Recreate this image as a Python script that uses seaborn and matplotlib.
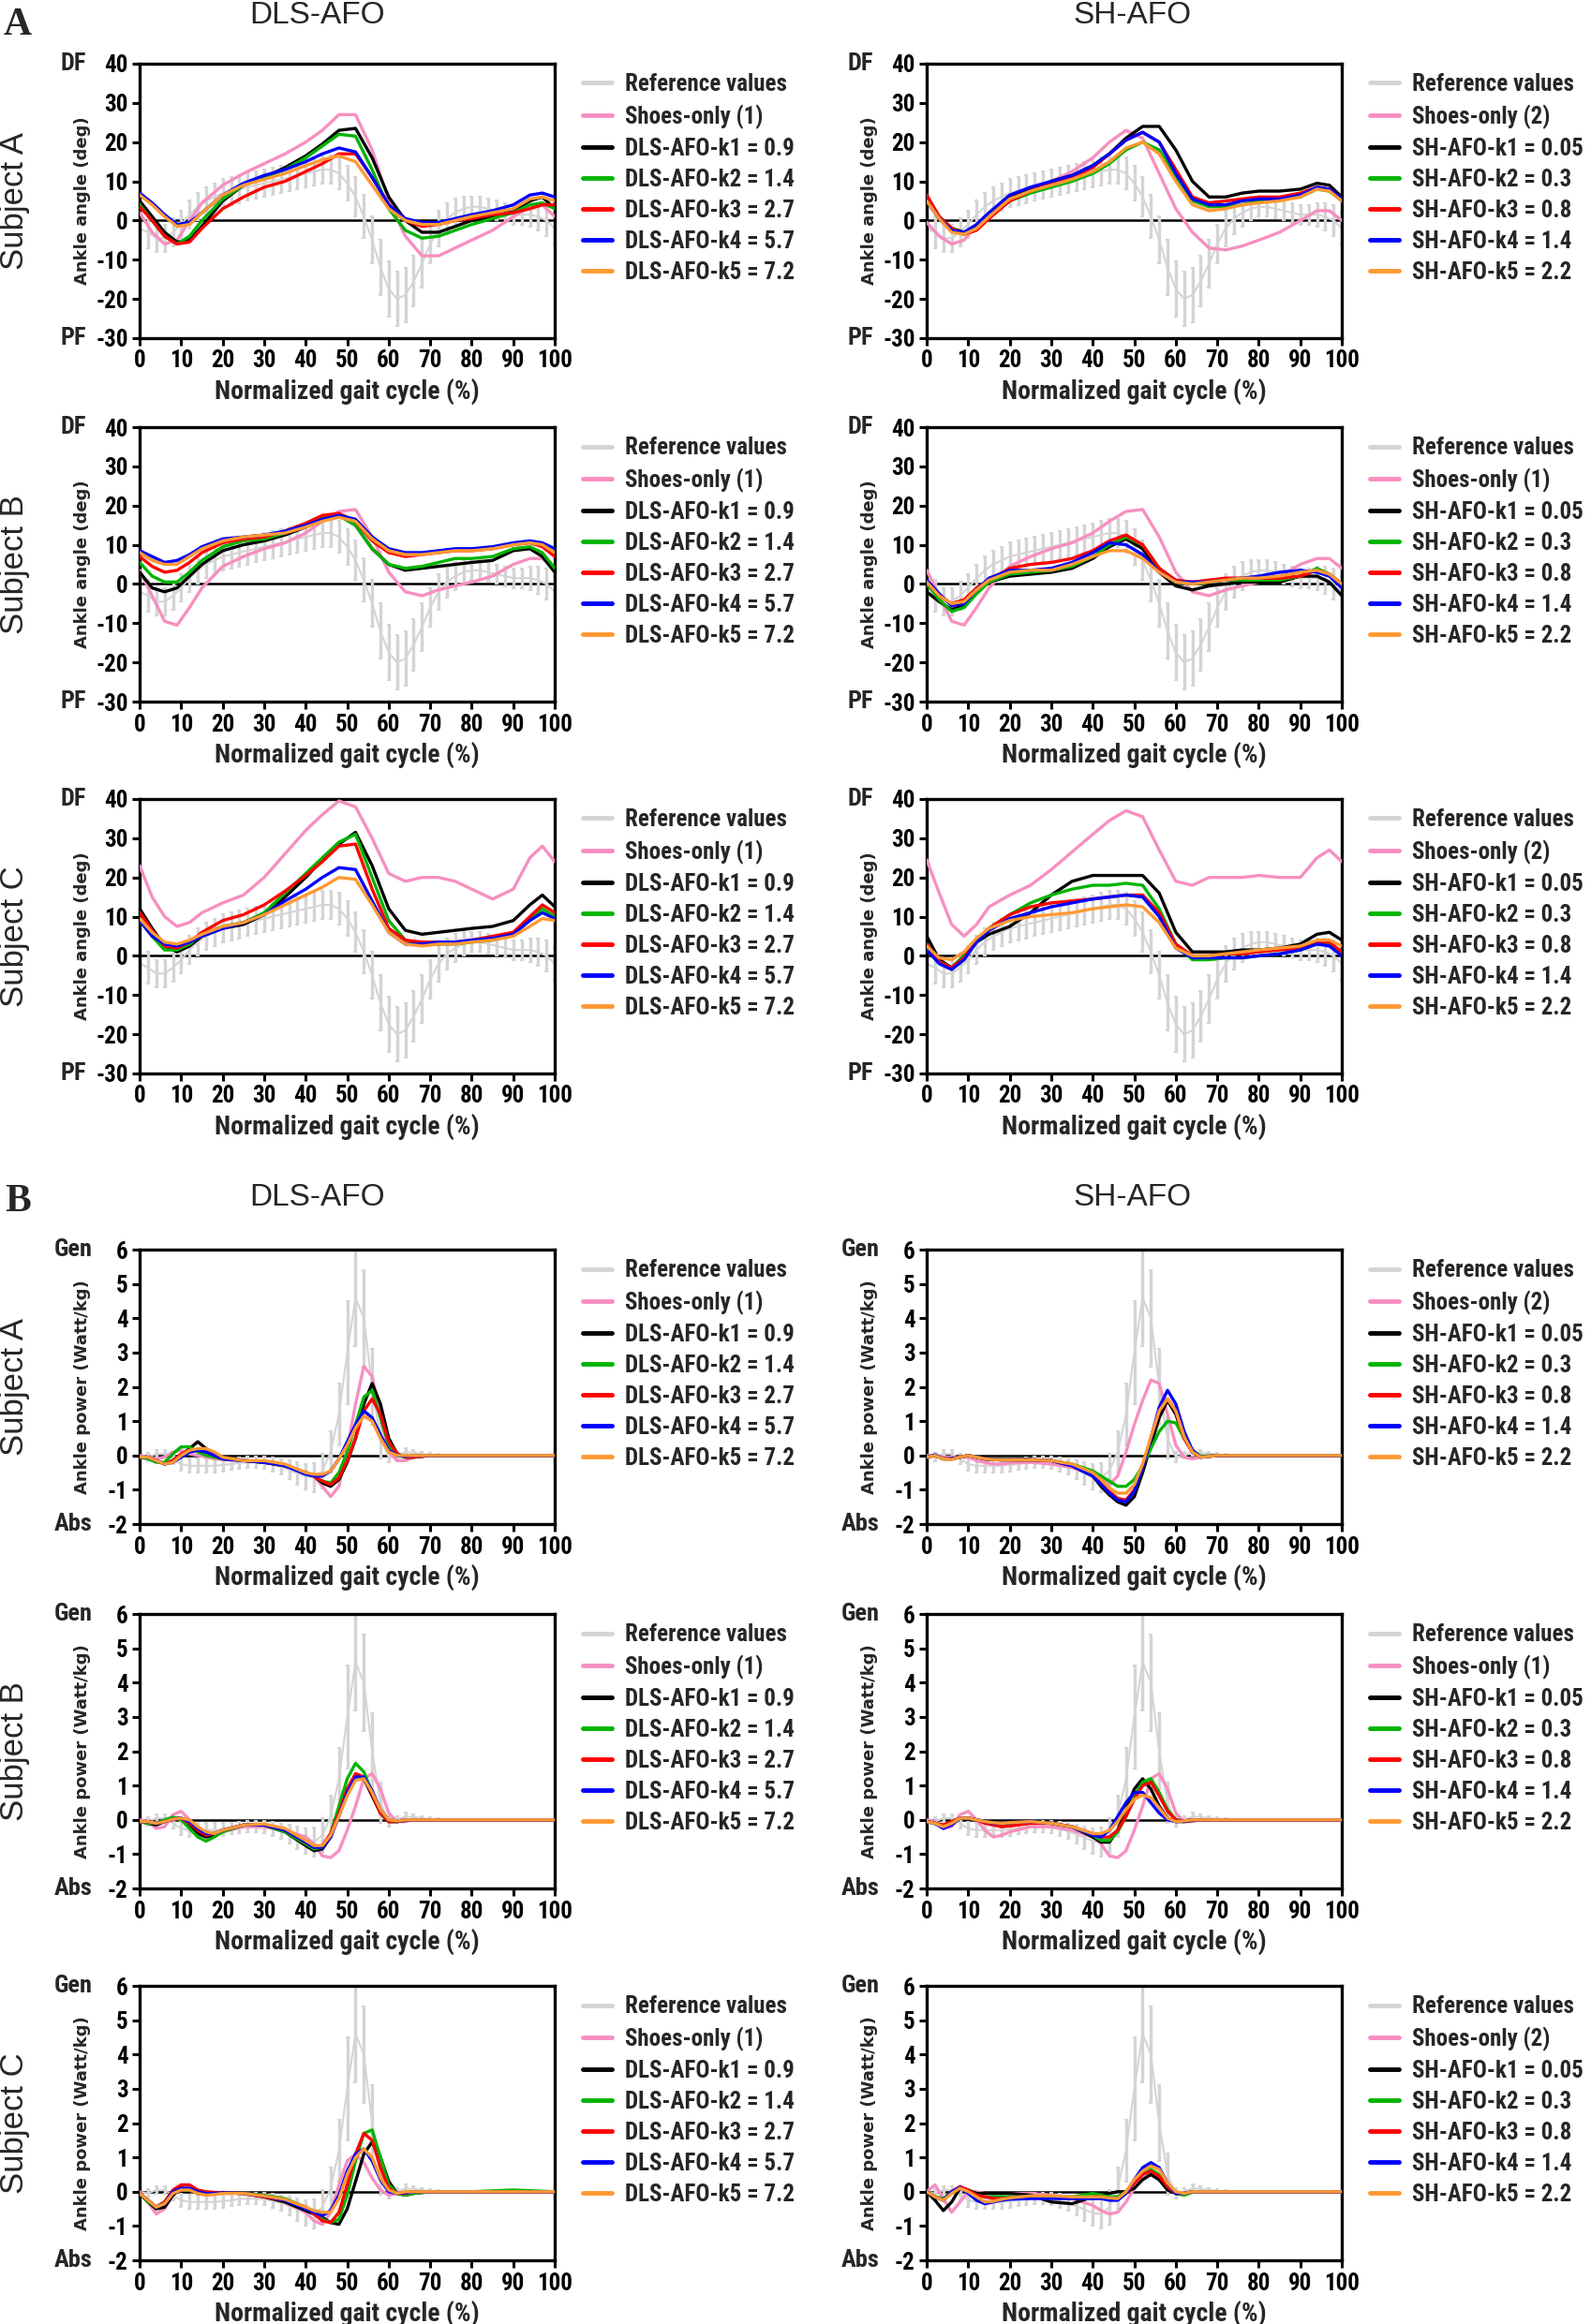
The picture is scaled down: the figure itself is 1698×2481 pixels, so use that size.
import matplotlib
matplotlib.use('Agg')
import matplotlib.pyplot as plt
from matplotlib import font_manager
from matplotlib.lines import Line2D
from matplotlib.transforms import blended_transform_factory
import seaborn as sns

# ---------------- data ----------------
# gait cycle (%) sample points
XA = [0, 3, 6, 9, 12, 15, 20, 25, 30, 35, 40, 44, 48, 52, 56, 60, 64, 68, 72, 76, 80, 85, 90, 94, 97, 100]
XP = [0, 2, 4, 6, 8, 10, 12, 14, 16, 18, 20, 25, 30, 35, 40, 42, 44, 46, 48, 50, 52, 54, 56, 58, 60, 62, 64, 66, 70, 80, 90, 100]
XR = [0, 2, 4, 6, 8, 10, 12, 14, 16, 18, 20, 22, 24, 26, 28, 30, 32, 34, 36, 38, 40, 42, 44, 46, 48, 50,
      52, 54, 56, 58, 60, 62, 64, 66, 68, 70, 72, 74, 76, 78, 80, 82, 84, 86, 88, 90, 92, 94, 96, 98, 100]

# reference (normal gait) mean and SD
ref_ang_mean = [-2, -3, -4.5, -4.5, -3, -1, 1.5, 3.5, 5, 6, 7, 7.5, 8, 8.5, 9, 9.5, 10, 10.5, 11, 11.5, 12, 12.5, 13, 13, 12, 9.5,
                6, 1, -5, -12, -17.5, -20, -19, -15.5, -11, -6, -2, 0.5, 2, 3, 3.5, 3.5, 3, 2.5, 2, 1.5, 1.5, 1.5, 1, 0, -2]
ref_ang_sd = [4, 4, 3.5, 3.5, 3.5, 3.5, 3.5, 3.5, 3.5, 3.5, 3.5, 3.5, 3.5, 3.5, 3.5, 3.5, 3.5, 3.5, 3.5, 3.5, 3.5, 3.5, 3.5, 3.5, 4, 4.5,
              5, 5.5, 6, 7, 7, 7, 7, 6.5, 6, 5, 4.5, 4, 3.5, 3, 2.5, 2.5, 2.5, 2.5, 2.5, 2.5, 2.5, 3, 3.5, 4, 4]
ref_pow_mean = [0, -0.05, 0.05, 0.05, -0.1, -0.25, -0.3, -0.3, -0.3, -0.3, -0.28, -0.25, -0.22, -0.2, -0.2, -0.22, -0.27, -0.33,
                -0.42, -0.52, -0.62, -0.65, -0.45, 0.1, 1.2, 3.0, 4.6, 4.0, 2.0, 0.5, -0.05, 0, 0.1, 0.08, 0.05, 0.02,
                0.01, 0, 0, 0, 0, 0, 0, 0, 0, 0, 0, 0, 0, 0, 0]
ref_pow_sd = [0.1, 0.12, 0.12, 0.12, 0.15, 0.2, 0.2, 0.2, 0.2, 0.2, 0.18, 0.17, 0.17, 0.17, 0.17, 0.18, 0.2, 0.22, 0.27, 0.33,
              0.38, 0.42, 0.5, 0.6, 0.9, 1.5, 1.4, 1.4, 1.1, 0.6, 0.15, 0.1, 0.1, 0.08, 0.06, 0.05,
              0.03, 0.03, 0.03, 0.03, 0.03, 0.03, 0.03, 0.03, 0.03, 0.03, 0.03, 0.03, 0.03, 0.03, 0.03]

# ankle angle (deg) - subject A
sa_dls_shoes = [2, -3, -6, -5, 0, 4.5, 9, 12, 14.5, 17, 20, 23, 27, 27, 18, 5, -4, -9, -9, -7, -5, -2.5, 1, 3.5, 4, 1]
sa_dls_k1 = [5, 1, -3, -5.5, -5, -1.5, 5, 9, 11, 13.5, 16.5, 19.5, 23, 23.5, 16, 6, 0, -3, -3, -1.5, 0, 1, 2.5, 5, 6, 3]
sa_dls_k2 = [4, 0, -4, -6, -4, 0, 5.5, 9, 11, 13, 16, 19, 22, 21.5, 13, 3, -2.5, -4.5, -4, -2.5, -1, 0.5, 2, 4, 4.5, 3]
sa_dls_k3 = [3.5, 0, -4, -6, -5.5, -2, 3, 6, 8.5, 10, 12.5, 14.5, 17, 17, 11, 4, 0, -1.5, -1, 0, 0.5, 1.5, 2, 3, 4, 4]
sa_dls_k4 = [7, 4.5, 1.5, -1, -0.5, 2, 6.5, 9.5, 11.5, 13, 15, 17, 18.5, 17.5, 11, 4, 0.5, -0.5, -0.5, 0.5, 1.5, 2.5, 4, 6.5, 7, 6]
sa_dls_k5 = [6.5, 4, 1, -1.5, -1, 2, 6.5, 9, 10.5, 12, 14, 15.5, 16.5, 15, 9, 3, 0, -1, -1, 0, 1, 2, 3, 5.5, 6, 5]
sa_sh_shoes = [-0.5, -4, -6, -5, -1, 2, 6, 8, 10, 12.5, 16, 20, 23, 21, 12, 3, -3, -7, -7.5, -6.5, -5, -3, 0, 2.5, 2.5, 0]
sa_sh_k1 = [6, 1, -2, -3, -1.5, 1.5, 6, 8, 10, 11.5, 14, 17, 21, 24, 24, 18, 10, 6, 6, 7, 7.5, 7.5, 8, 9.5, 9, 6]
sa_sh_k2 = [5, 0.5, -2.5, -3.5, -2, 1, 5, 7, 8.5, 10, 12, 14.5, 18, 20, 18, 11, 5, 3.5, 3.5, 4, 5, 5.5, 6, 8, 7.5, 5]
sa_sh_k3 = [6.5, 1, -2, -3.5, -2.5, 0.5, 5, 7.5, 9.5, 11, 13.5, 17, 20.5, 22.5, 20, 13, 6, 4.5, 5, 5.5, 6, 6, 7, 8.5, 8, 5.5]
sa_sh_k4 = [5, 0.5, -2.5, -3, -1, 2, 6.5, 8.5, 10, 11.5, 14, 17, 20.5, 22.5, 20, 12, 5.5, 4, 4, 5, 5.5, 5.5, 6.5, 8.5, 8, 5.5]
sa_sh_k5 = [5, 0.5, -3, -3.5, -2, 1, 5.5, 7.5, 9, 10.5, 12.5, 15, 18.5, 20, 17, 10, 4, 2.5, 3, 4, 4.5, 5, 6, 8, 7.5, 5]

# ankle angle (deg) - subject B
sb_shoes_ang = [3.5, -3, -9.5, -10.5, -6, -1, 4.5, 7, 9, 10.5, 13, 16, 18.5, 19, 12, 3, -2, -3, -1.5, -0.5, 0.5, 2, 5, 6.5, 6.5, 4]
sb_dls_k1 = [3, -1, -2, -1, 2, 5, 8.5, 10, 11, 12.5, 14.5, 16.5, 17.5, 15, 9, 5, 3.5, 4, 4.5, 5, 5.5, 6, 8.5, 9, 7, 3]
sb_dls_k2 = [5.5, 2, 0.5, 0.5, 3, 6, 9.5, 11, 11.5, 13, 15, 17, 17.5, 15, 9, 5, 4, 4.5, 5.5, 6.5, 6.5, 7, 9, 9.5, 8, 4]
sb_dls_k3 = [7, 4.5, 3, 3.5, 5.5, 8, 10.5, 11.5, 12, 13.5, 15.5, 17.5, 18, 16, 11, 8, 7, 7.5, 8, 8.5, 8.5, 9, 10, 10.5, 9.5, 7]
sb_dls_k4 = [8.5, 7, 5.5, 6, 7.5, 9.5, 11.5, 12, 12.5, 13.5, 15, 16.5, 17.5, 16.5, 12, 9, 8, 8, 8.5, 9, 9, 9.5, 10.5, 11, 10.5, 9]
sb_dls_k5 = [8, 6, 5, 5, 7, 9, 11, 12, 12.5, 13, 14.5, 16, 17, 16, 11.5, 8.5, 7.5, 7.5, 8, 8.5, 8.5, 9, 10, 10.5, 10, 8]
sb_sh_k1 = [-2, -4.5, -6.5, -5.5, -2, 0.5, 2, 2.5, 3, 4, 6.5, 9.5, 11.5, 9, 3, -0.5, -1.5, -0.5, 0, 0.5, 0.5, 0.5, 2, 2, 0.5, -3]
sb_sh_k2 = [0, -4, -7, -6, -2.5, 0.5, 2.5, 3, 3.5, 4.5, 7, 10, 12, 10, 4, 0.5, 0, 0.5, 1, 1, 1, 1, 2, 4, 2.5, 0]
sb_sh_k3 = [0.5, -3, -5, -4, -1, 1, 4, 5, 5.5, 6.5, 8.5, 11, 12.5, 10, 4, 1, 0.5, 1, 1.5, 1.5, 1.5, 1.5, 2, 3.5, 2.5, 0]
sb_sh_k4 = [1, -2.5, -5.5, -5, -1.5, 1.5, 3.5, 3.5, 4, 5.5, 8, 10.5, 10, 7.5, 3, 0.5, 0.5, 0.5, 1, 1.5, 2, 3, 3.5, 3, 2, -1]
sb_sh_k5 = [0.5, -3, -5, -4.5, -1.5, 1, 3, 3.5, 3.5, 5, 7, 8.5, 8.5, 6.5, 3, 0.5, 0, 0.5, 1, 1.5, 1.5, 2, 3, 3.5, 2.5, 0]

# ankle angle (deg) - subject C
sc_dls_shoes = [23, 15, 10, 7.5, 8.5, 11, 13.5, 15.5, 20, 26, 32, 36, 39.5, 38, 30, 21, 19, 20, 20, 19, 17, 14.5, 17, 25, 28, 24]
sc_dls_k1 = [12, 7, 2.5, 1, 2.5, 5, 7, 8, 10.5, 15, 20, 24.5, 28.5, 31.5, 23, 12, 6.5, 5.5, 6, 6.5, 7, 7.5, 9, 13, 15.5, 12.5]
sc_dls_k2 = [9, 5, 1.5, 1.5, 3, 5.5, 7.5, 8.5, 11, 16, 21, 25, 29, 31, 20, 9, 4, 3, 3, 3, 3.5, 4, 5.5, 9.5, 12, 10]
sc_dls_k3 = [11, 6.5, 2.5, 2, 3.5, 6, 9, 10.5, 13, 16.5, 20.5, 24, 28, 28.5, 17, 7, 4, 3.5, 3.5, 3.5, 4, 5, 6, 10, 13, 11]
sc_dls_k4 = [9, 5, 3, 2.5, 3.5, 5, 7, 8.5, 10.5, 14, 17, 20, 22.5, 22, 14, 6, 3, 3, 3.5, 3.5, 4, 4.5, 5.5, 9, 11, 9.5]
sc_dls_k5 = [9.5, 6, 3.5, 3, 4, 5.5, 7.5, 8.5, 10.5, 13, 15.5, 17.5, 20, 19.5, 13, 6, 3, 2.5, 3, 3, 3.5, 4, 5, 7.5, 9.5, 9]
sc_sh_shoes = [24.5, 16, 8, 5, 8, 12.5, 15.5, 18, 22, 26.5, 31, 34.5, 37, 35.5, 27, 19, 18, 20, 20, 20, 20.5, 20, 20, 25, 27, 24]
sc_sh_k1 = [5, -1, -3, 0, 3.5, 5.5, 7.5, 11, 15.5, 19, 20.5, 20.5, 20.5, 20.5, 16, 6, 1, 1, 1, 1.5, 1.5, 2, 3, 5.5, 6, 4]
sc_sh_k2 = [2, -1.5, -3, 0, 4, 7, 10.5, 13.5, 15.5, 17, 18, 18, 18.5, 18, 12, 3, -1, -1, -0.5, -0.5, 0, 0.5, 1.5, 3, 3, 1]
sc_sh_k3 = [3, -1.5, -3, -0.5, 4, 7, 10.5, 12.5, 13.5, 14, 14.5, 15, 15.5, 15.5, 11, 3, 0, 0, 0.5, 0.5, 1, 1.5, 2, 3.5, 3.5, 1]
sc_sh_k4 = [1.5, -2, -3.5, -1, 3.5, 6.5, 9.5, 11, 12.5, 13.5, 14.5, 15, 15.5, 15, 10, 2, -0.5, -0.5, -0.5, -0.5, 0, 0.5, 1.5, 3, 2.5, 0]
sc_sh_k5 = [2.5, -0.5, -1, 1, 4.5, 7, 9, 10, 10.5, 11, 12, 12.5, 13, 12.5, 8.5, 2, 0, 0, 0.5, 1, 1.5, 2, 2.5, 4, 4, 2.5]

# ankle power (W/kg) - subject A
pa_dls_shoes = [0, -0.05, -0.1, -0.05, 0.1, 0.15, 0.05, 0, -0.05, -0.1, -0.12, -0.15, -0.2, -0.3, -0.5, -0.6, -0.9, -1.2, -0.9, 0.2, 1.5, 2.6, 2.3, 1.2, 0.1, -0.15, -0.15, -0.05, 0, 0, 0, 0]
pa_dls_k1 = [-0.05, -0.05, -0.15, -0.25, -0.15, 0, 0.2, 0.4, 0.2, 0, -0.05, -0.15, -0.2, -0.3, -0.5, -0.6, -0.8, -0.9, -0.7, -0.2, 0.5, 1.5, 2.1, 1.5, 0.5, 0.05, -0.05, -0.05, 0, 0, 0, 0]
pa_dls_k2 = [-0.05, -0.1, -0.2, -0.2, 0.05, 0.25, 0.25, 0.1, 0, -0.05, -0.1, -0.15, -0.2, -0.3, -0.5, -0.6, -0.75, -0.8, -0.5, 0.1, 0.9, 1.7, 1.9, 1.1, 0.3, 0, -0.05, -0.05, 0, 0, 0, 0]
pa_dls_k3 = [-0.05, -0.05, -0.15, -0.25, -0.15, 0.05, 0.15, 0.15, 0.1, 0, -0.1, -0.15, -0.2, -0.3, -0.5, -0.6, -0.75, -0.85, -0.65, -0.15, 0.5, 1.3, 1.65, 1.2, 0.4, 0.05, -0.05, -0.05, 0, 0, 0, 0]
pa_dls_k4 = [-0.05, -0.05, -0.15, -0.25, -0.2, -0.05, 0.1, 0.15, 0.1, 0, -0.1, -0.15, -0.2, -0.3, -0.55, -0.6, -0.6, -0.45, -0.1, 0.4, 0.9, 1.3, 1.1, 0.6, 0.15, 0, -0.02, 0, 0, 0, 0, 0]
pa_dls_k5 = [-0.05, -0.05, -0.15, -0.25, -0.2, 0, 0.15, 0.2, 0.2, 0.1, -0.05, -0.15, -0.15, -0.25, -0.5, -0.55, -0.55, -0.45, -0.1, 0.3, 0.8, 1.15, 1.0, 0.5, 0.1, 0, 0, 0, 0, 0, 0, 0]
pa_sh_shoes = [0, 0, -0.05, -0.05, -0.05, -0.05, -0.15, -0.2, -0.25, -0.25, -0.22, -0.2, -0.25, -0.35, -0.55, -0.7, -0.85, -0.6, 0.1, 0.9, 1.6, 2.2, 2.1, 1.2, 0.3, -0.05, -0.1, -0.05, 0, 0, 0, 0]
pa_sh_k1 = [-0.05, 0, -0.1, -0.1, -0.05, 0, -0.05, -0.1, -0.12, -0.12, -0.12, -0.12, -0.15, -0.3, -0.6, -0.9, -1.15, -1.35, -1.45, -1.2, -0.5, 0.3, 1.1, 1.6, 1.2, 0.5, 0.1, -0.05, 0, 0, 0, 0]
pa_sh_k2 = [-0.05, 0, -0.1, -0.1, -0.05, 0, -0.05, -0.1, -0.12, -0.13, -0.13, -0.13, -0.15, -0.25, -0.45, -0.6, -0.75, -0.9, -0.9, -0.7, -0.3, 0.2, 0.7, 1.0, 0.95, 0.5, 0.15, -0.02, 0, 0, 0, 0]
pa_sh_k3 = [-0.05, 0, -0.1, -0.1, -0.05, 0, -0.05, -0.1, -0.12, -0.13, -0.13, -0.13, -0.15, -0.3, -0.55, -0.8, -1.05, -1.25, -1.3, -1.0, -0.35, 0.5, 1.3, 1.65, 1.3, 0.5, 0.1, -0.05, 0, 0, 0, 0]
pa_sh_k4 = [-0.05, 0.02, -0.1, -0.1, -0.05, 0, -0.05, -0.1, -0.12, -0.13, -0.13, -0.13, -0.15, -0.3, -0.6, -0.85, -1.1, -1.3, -1.35, -1.05, -0.35, 0.5, 1.4, 1.9, 1.5, 0.7, 0.15, -0.05, 0, 0, 0, 0]
pa_sh_k5 = [-0.05, 0, -0.1, -0.12, -0.05, 0, -0.05, -0.1, -0.12, -0.13, -0.13, -0.13, -0.15, -0.25, -0.5, -0.7, -0.95, -1.1, -1.1, -0.85, -0.25, 0.55, 1.3, 1.65, 1.3, 0.55, 0.1, -0.05, 0, 0, 0, 0]

# ankle power (W/kg) - subject B
pb_shoes = [0, -0.05, -0.25, -0.2, 0.15, 0.25, 0, -0.3, -0.5, -0.45, -0.35, -0.2, -0.2, -0.3, -0.5, -0.7, -1.05, -1.1, -0.9, -0.3, 0.4, 1.2, 1.35, 0.9, 0.2, -0.05, -0.05, 0, 0, 0, 0, 0]
pb_dls_k1 = [-0.05, -0.1, -0.15, -0.05, 0.05, 0.05, -0.15, -0.4, -0.5, -0.45, -0.3, -0.15, -0.15, -0.35, -0.75, -0.9, -0.85, -0.5, 0.2, 0.9, 1.3, 1.2, 0.7, 0.2, -0.05, -0.05, -0.02, 0, 0, 0, 0, 0]
pb_dls_k2 = [-0.05, -0.1, -0.1, 0, 0.08, 0, -0.25, -0.5, -0.62, -0.5, -0.35, -0.15, -0.15, -0.35, -0.7, -0.85, -0.8, -0.4, 0.4, 1.2, 1.65, 1.4, 0.8, 0.2, -0.05, -0.05, 0, 0, 0, 0, 0, 0]
pb_dls_k3 = [-0.05, -0.05, -0.1, -0.05, 0, 0.05, -0.1, -0.3, -0.45, -0.4, -0.3, -0.15, -0.15, -0.3, -0.65, -0.8, -0.75, -0.4, 0.2, 0.9, 1.35, 1.25, 0.75, 0.2, -0.05, -0.05, 0, 0, 0, 0, 0, 0]
pb_dls_k4 = [-0.05, -0.05, -0.1, -0.05, 0.02, 0.05, -0.05, -0.25, -0.4, -0.4, -0.3, -0.15, -0.15, -0.3, -0.65, -0.8, -0.8, -0.5, 0.1, 0.8, 1.25, 1.25, 0.85, 0.3, 0, -0.03, 0, 0, 0, 0, 0, 0]
pb_dls_k5 = [-0.05, -0.05, -0.1, -0.05, 0.02, 0.05, 0, -0.2, -0.35, -0.4, -0.3, -0.15, -0.12, -0.25, -0.6, -0.75, -0.75, -0.45, 0.1, 0.7, 1.15, 1.2, 0.8, 0.3, 0, -0.03, 0, 0, 0, 0, 0, 0]
pb_sh_k1 = [-0.05, -0.1, -0.2, -0.1, 0.05, 0.05, 0, -0.05, -0.1, -0.1, -0.1, -0.05, -0.1, -0.2, -0.5, -0.65, -0.65, -0.3, 0.3, 0.9, 1.2, 0.9, 0.4, 0.05, -0.05, -0.05, -0.02, 0, 0, 0, 0, 0]
pb_sh_k2 = [-0.05, -0.1, -0.15, -0.05, 0.05, 0.05, 0, -0.05, -0.1, -0.12, -0.12, -0.05, -0.1, -0.2, -0.45, -0.6, -0.6, -0.35, 0.1, 0.7, 1.1, 1.2, 0.8, 0.3, 0, -0.03, 0, 0, 0, 0, 0, 0]
pb_sh_k3 = [-0.05, -0.1, -0.15, -0.05, 0.05, 0.05, 0, -0.1, -0.15, -0.2, -0.18, -0.1, -0.1, -0.2, -0.4, -0.5, -0.5, -0.3, 0.1, 0.6, 1.0, 1.1, 0.7, 0.25, 0, -0.03, 0, 0, 0, 0, 0, 0]
pb_sh_k4 = [-0.05, -0.1, -0.25, -0.15, 0.05, 0.05, 0, -0.05, -0.1, -0.1, -0.08, -0.05, -0.1, -0.2, -0.45, -0.5, -0.3, 0.1, 0.5, 0.8, 0.8, 0.5, 0.2, 0, -0.05, -0.03, 0, 0, 0, 0, 0, 0]
pb_sh_k5 = [-0.05, -0.1, -0.2, -0.1, 0.05, 0.05, 0, -0.05, -0.08, -0.1, -0.08, -0.05, -0.1, -0.2, -0.4, -0.4, -0.3, -0.05, 0.3, 0.6, 0.72, 0.65, 0.35, 0.05, -0.05, -0.03, 0, 0, 0, 0, 0, 0]

# ankle power (W/kg) - subject C
pc_dls_shoes = [0, -0.3, -0.65, -0.5, -0.1, 0.15, 0.1, -0.05, -0.1, -0.05, -0.02, -0.05, -0.15, -0.3, -0.6, -0.85, -0.95, -0.6, 0.2, 0.9, 1.1, 0.85, 0.4, 0.05, -0.1, -0.05, 0, 0, 0, 0, 0, 0]
pc_dls_k1 = [-0.05, -0.3, -0.5, -0.45, -0.1, 0.1, 0.05, -0.05, -0.05, -0.05, -0.02, -0.05, -0.15, -0.3, -0.55, -0.65, -0.75, -0.9, -0.95, -0.5, 0.3, 1.1, 1.45, 1.0, 0.3, -0.05, -0.1, -0.05, 0, 0, 0, 0]
pc_dls_k2 = [-0.05, -0.3, -0.45, -0.3, 0, 0.1, 0.05, -0.05, -0.05, -0.05, -0.03, -0.05, -0.1, -0.2, -0.45, -0.6, -0.8, -0.9, -0.8, -0.1, 0.9, 1.7, 1.8, 1.0, 0.2, -0.05, -0.1, -0.05, 0, 0, 0.05, 0]
pc_dls_k3 = [-0.05, -0.25, -0.45, -0.3, 0.05, 0.2, 0.2, 0.05, 0, -0.02, -0.03, -0.05, -0.15, -0.25, -0.45, -0.65, -0.85, -0.9, -0.6, 0.2, 1.1, 1.7, 1.5, 0.7, 0.1, -0.05, -0.05, 0, 0, 0, 0, 0]
pc_dls_k4 = [-0.05, -0.25, -0.45, -0.35, 0, 0.1, 0.1, 0, -0.05, -0.05, -0.03, -0.05, -0.12, -0.25, -0.5, -0.6, -0.7, -0.55, -0.1, 0.6, 1.1, 1.25, 0.9, 0.35, 0, -0.05, -0.03, 0, 0, 0, 0, 0]
pc_dls_k5 = [-0.05, -0.25, -0.45, -0.35, -0.05, 0.05, 0.05, -0.05, -0.1, -0.08, -0.05, -0.05, -0.12, -0.22, -0.45, -0.55, -0.6, -0.6, -0.2, 0.5, 1.0, 1.25, 1.0, 0.4, 0.05, -0.05, 0, 0, 0, 0, 0, 0]
pc_sh_shoes = [0, 0.2, -0.2, -0.6, -0.3, 0, 0, -0.05, -0.05, -0.05, -0.05, -0.05, -0.1, -0.2, -0.4, -0.55, -0.65, -0.6, -0.3, 0.1, 0.4, 0.5, 0.35, 0.1, -0.05, -0.05, 0, 0, 0, 0, 0, 0]
pc_sh_k1 = [0, -0.25, -0.55, -0.3, 0.1, 0.05, -0.05, -0.05, -0.05, -0.05, -0.05, -0.1, -0.3, -0.35, -0.15, -0.1, -0.05, 0, 0, 0.1, 0.35, 0.5, 0.35, 0.05, -0.05, -0.05, 0, 0, 0, 0, 0, 0]
pc_sh_k2 = [0, -0.15, -0.2, 0, 0.12, 0.05, -0.1, -0.15, -0.15, -0.15, -0.15, -0.15, -0.15, -0.15, -0.05, -0.1, -0.15, -0.15, 0, 0.3, 0.55, 0.65, 0.5, 0.15, -0.05, -0.1, -0.02, 0, 0, 0, 0, 0]
pc_sh_k3 = [0, -0.15, -0.25, 0, 0.15, 0.05, -0.1, -0.15, -0.2, -0.2, -0.18, -0.15, -0.15, -0.2, -0.15, -0.15, -0.2, -0.2, -0.05, 0.25, 0.5, 0.6, 0.45, 0.15, -0.05, -0.05, 0, 0, 0, 0, 0, 0]
pc_sh_k4 = [0, -0.15, -0.25, 0, 0.12, -0.05, -0.25, -0.35, -0.3, -0.25, -0.22, -0.2, -0.2, -0.2, -0.2, -0.2, -0.25, -0.25, -0.05, 0.35, 0.7, 0.85, 0.7, 0.25, -0.05, -0.05, 0, 0, 0, 0, 0, 0]
pc_sh_k5 = [0, -0.15, -0.25, -0.05, 0.1, 0, -0.15, -0.3, -0.28, -0.22, -0.18, -0.12, -0.12, -0.15, -0.15, -0.15, -0.18, -0.2, 0, 0.35, 0.6, 0.75, 0.65, 0.25, 0, -0.05, 0, 0, 0, 0, 0, 0]

dls_labels = ['DLS-AFO-k1 = 0.9', 'DLS-AFO-k2 = 1.4', 'DLS-AFO-k3 = 2.7', 'DLS-AFO-k4 = 5.7', 'DLS-AFO-k5 = 7.2']
sh_labels = ['SH-AFO-k1 = 0.05', 'SH-AFO-k2 = 0.3', 'SH-AFO-k3 = 0.8', 'SH-AFO-k4 = 1.4', 'SH-AFO-k5 = 2.2']
subjects = ['Subject A', 'Subject B', 'Subject C']

# ---------------- style ----------------
sns.set_style('ticks')
names = {f.name for f in font_manager.fontManager.ttflist}


def pick(cands):
    return next((c for c in cands if c in names), 'DejaVu Sans')


SANS = pick(['Liberation Sans', 'Arimo', 'Roboto'])
NARROW = pick(['Liberation Sans Narrow', 'Roboto Condensed', 'Liberation Sans', 'Arimo'])
SERIF = pick(['Liberation Serif', 'DejaVu Serif'])
plt.rcParams['font.family'] = [SANS, 'DejaVu Sans']
plt.rcParams['axes.unicode_minus'] = False

AFO_COLORS = ['#000000', '#00b400', '#ff0000', '#0000ff', '#ff9933']
SHOE_COLOR = '#f78fc0'
REF_COLOR = '#d4d4d4'

fig = plt.figure(figsize=(16.98, 24.81), dpi=100)
COL_X = [0.0878, 0.5825]
AX_W, AX_H = 0.2609, 0.1181
ROW_Y = [0.8545, 0.6981, 0.5381, 0.3442, 0.1874, 0.0274]


def draw_panel(ax, kind, shoes, shoes_label, afo, afo_labels):
    if kind == 'angle':
        x, rx, rm, rs = XA, XR, ref_ang_mean, ref_ang_sd
        ylim, yticks = (-30, 40), range(-30, 41, 10)
        ylabel, top_txt, bot_txt = 'Ankle angle (deg)', 'DF', 'PF'
    else:
        x, rx, rm, rs = XP, XR, ref_pow_mean, ref_pow_sd
        ylim, yticks = (-2, 6), range(-2, 7)
        ylabel, top_txt, bot_txt = 'Ankle power (Watt/kg)', 'Gen', 'Abs'

    ax.axhline(0, color='black', lw=1.8, zorder=1)
    ax.errorbar(rx, rm, yerr=rs, color=REF_COLOR, lw=1.5, elinewidth=2.4,
                capsize=1.5, capthick=1.5, zorder=2)
    sns.lineplot(x=x, y=shoes, ax=ax, color=SHOE_COLOR, lw=2.4, zorder=3)
    for vals, c in zip(afo, AFO_COLORS):
        sns.lineplot(x=x, y=vals, ax=ax, color=c, lw=2.4, zorder=4)

    ax.set_xlim(0, 100)
    ax.set_ylim(*ylim)
    ax.set_xticks(range(0, 101, 10))
    ax.set_yticks(list(yticks))
    for s in ax.spines.values():
        s.set_linewidth(2.4)
        s.set_color('black')
    ax.tick_params(direction='out', length=6, width=2.2, pad=3, labelsize=18, colors='black')
    for lab in ax.get_xticklabels() + ax.get_yticklabels():
        lab.set_fontfamily(NARROW)
        lab.set_fontweight('bold')

    ax.set_xlabel('Normalized gait cycle (%)', fontsize=20, fontweight='bold', family=NARROW)
    ax.xaxis.set_label_coords(0.5, -0.145)
    ax.set_ylabel(ylabel, fontsize=13, fontweight='bold', family='DejaVu Sans')
    ax.yaxis.label.set_va('center')
    ax.yaxis.set_label_coords(-0.138, 0.5)

    tr = blended_transform_factory(ax.transAxes, ax.transData)
    ax.text(-0.16, ylim[1], top_txt, transform=tr, ha='center', va='center',
            fontsize=19, fontweight='bold', family=NARROW)
    ax.text(-0.16, ylim[0], bot_txt, transform=tr, ha='center', va='center',
            fontsize=19, fontweight='bold', family=NARROW)

    handles = [Line2D([], [], color=REF_COLOR, lw=3.5), Line2D([], [], color=SHOE_COLOR, lw=3.5)]
    handles += [Line2D([], [], color=c, lw=3.5) for c in AFO_COLORS]
    labels = ['Reference values', shoes_label] + afo_labels
    ax.legend(handles, labels, loc='upper left', bbox_to_anchor=(1.068, 0.965), frameon=False,
              borderaxespad=0, borderpad=0, handlelength=1.25, handletextpad=0.55,
              labelspacing=0.36, prop={'family': NARROW, 'weight': 'bold', 'size': 18})


panels = [
    ('angle', 0, 0, sa_dls_shoes, 'Shoes-only (1)', [sa_dls_k1, sa_dls_k2, sa_dls_k3, sa_dls_k4, sa_dls_k5], dls_labels),
    ('angle', 0, 1, sa_sh_shoes, 'Shoes-only (2)', [sa_sh_k1, sa_sh_k2, sa_sh_k3, sa_sh_k4, sa_sh_k5], sh_labels),
    ('angle', 1, 0, sb_shoes_ang, 'Shoes-only (1)', [sb_dls_k1, sb_dls_k2, sb_dls_k3, sb_dls_k4, sb_dls_k5], dls_labels),
    ('angle', 1, 1, sb_shoes_ang, 'Shoes-only (1)', [sb_sh_k1, sb_sh_k2, sb_sh_k3, sb_sh_k4, sb_sh_k5], sh_labels),
    ('angle', 2, 0, sc_dls_shoes, 'Shoes-only (1)', [sc_dls_k1, sc_dls_k2, sc_dls_k3, sc_dls_k4, sc_dls_k5], dls_labels),
    ('angle', 2, 1, sc_sh_shoes, 'Shoes-only (2)', [sc_sh_k1, sc_sh_k2, sc_sh_k3, sc_sh_k4, sc_sh_k5], sh_labels),
    ('power', 3, 0, pa_dls_shoes, 'Shoes-only (1)', [pa_dls_k1, pa_dls_k2, pa_dls_k3, pa_dls_k4, pa_dls_k5], dls_labels),
    ('power', 3, 1, pa_sh_shoes, 'Shoes-only (2)', [pa_sh_k1, pa_sh_k2, pa_sh_k3, pa_sh_k4, pa_sh_k5], sh_labels),
    ('power', 4, 0, pb_shoes, 'Shoes-only (1)', [pb_dls_k1, pb_dls_k2, pb_dls_k3, pb_dls_k4, pb_dls_k5], dls_labels),
    ('power', 4, 1, pb_shoes, 'Shoes-only (1)', [pb_sh_k1, pb_sh_k2, pb_sh_k3, pb_sh_k4, pb_sh_k5], sh_labels),
    ('power', 5, 0, pc_dls_shoes, 'Shoes-only (1)', [pc_dls_k1, pc_dls_k2, pc_dls_k3, pc_dls_k4, pc_dls_k5], dls_labels),
    ('power', 5, 1, pc_sh_shoes, 'Shoes-only (2)', [pc_sh_k1, pc_sh_k2, pc_sh_k3, pc_sh_k4, pc_sh_k5], sh_labels),
]

for kind, row, col, shoes, slab, afo, alabs in panels:
    ax = fig.add_axes([COL_X[col], ROW_Y[row], AX_W, AX_H])
    draw_panel(ax, kind, shoes, slab, afo, alabs)
    if col == 0:
        fig.text(0.0094, ROW_Y[row] + AX_H / 2, subjects[row % 3], rotation=90,
                 ha='center', va='center', fontsize=25, family=SANS)

# column titles and section letters
for y in (0.9935, 0.4845):
    fig.text(0.1996, y, 'DLS-AFO', ha='center', va='center', fontsize=24, family=SANS)
    fig.text(0.712, y, 'SH-AFO', ha='center', va='center', fontsize=24, family=SANS)
fig.text(0.011, 0.989, 'A', ha='center', va='center', fontsize=30, fontweight='bold', family=SERIF)
fig.text(0.011, 0.483, 'B', ha='center', va='center', fontsize=30, fontweight='bold', family=SERIF)

fig.savefig('out.png', dpi=100)
